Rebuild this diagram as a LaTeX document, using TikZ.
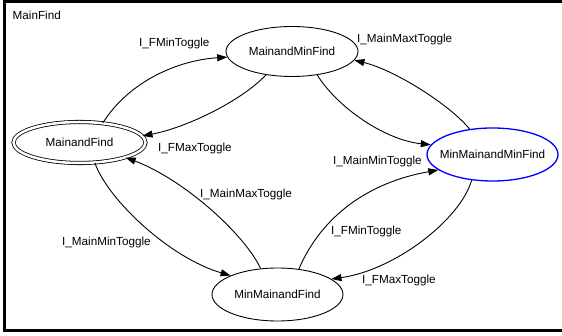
\documentclass[tikz,border=0pt]{standalone}
\usepackage{fontspec}
\setmainfont{Liberation Sans}
\usetikzlibrary{shapes.geometric,arrows.meta}
\begin{document}
\begin{tikzpicture}[x=1pt,y=-1pt,
  txt/.style={font=\fontsize{11.7}{14}\selectfont},
  state/.style={ellipse,draw=black,line width=0.9pt,inner sep=-8pt,txt},
  edge/.style={draw=black,line width=0.9pt,-{Triangle[length=10pt,width=7pt]}},
  lbl/.style={txt,inner sep=0pt,anchor=base west}]
\useasboundingbox (0,0) rectangle (562,336);
\fill[white] (0,0) rectangle (562,336);
\draw[line width=3pt] (566,1.5) -- (4.5,1.5) -- (4.5,330.5) -- (566,330.5);
\node[lbl] (title) at (12.5,19.3) {MainFind};

\node[state,double,line width=0.8pt,double distance=2.5pt,minimum width=132pt,minimum height=41pt] (mf) at (79.5,142.5) {MainandFind};
\node[state,minimum width=132pt,minimum height=50pt] (mmf) at (292,51.5) {MainandMinFind};
\node[state,draw=blue,line width=1.3pt,minimum width=131pt,minimum height=53pt] (mmmf) at (492.5,154.5) {MinMainandMinFind};
\node[state,minimum width=131pt,minimum height=53pt] (mmf2) at (277.5,294.5) {MinMainandFind};

% edges
\draw[edge] (mf.40) .. controls (130,80) and (180,60) .. (mmf.185);
\draw[edge] (mmf.222) .. controls (240,102) and (185,128) .. (mf.6);
\draw[edge] (mmf.-43) .. controls (338,108) and (385,140) .. (mmmf.171);
\draw[edge] (mmmf.132) .. controls (450,105) and (395,70) .. (mmf.-8);
\draw[edge] (mf.-53) .. controls (108,200) and (170,258) .. (mmf2.158);
\draw[edge] (mmf2.123) .. controls (245,235) and (185,180) .. (mf.-18);
\draw[edge] (mmf2.50) .. controls (322,215) and (370,182) .. (mmmf.196);
\draw[edge] (mmmf.231) .. controls (460,220) and (395,270) .. (mmf2.16);

% labels
\node[lbl] (l1) at (139,46.5) {I\_FMinToggle};
\node[lbl] (l2) at (158,151.5) {I\_FMaxToggle};
\node[lbl] (l3) at (357,43) {I\_MainMaxtToggle};
\node[lbl] (l4) at (333,164.5) {I\_MainMinToggle};
\node[lbl] (l5) at (200,197.5) {I\_MainMaxToggle};
\node[lbl] (l6) at (62,245.5) {I\_MainMinToggle};
\node[lbl] (l7) at (331,234.5) {I\_FMinToggle};
\node[lbl] (l8) at (362,284) {I\_FMaxToggle};
\end{tikzpicture}
\end{document}
